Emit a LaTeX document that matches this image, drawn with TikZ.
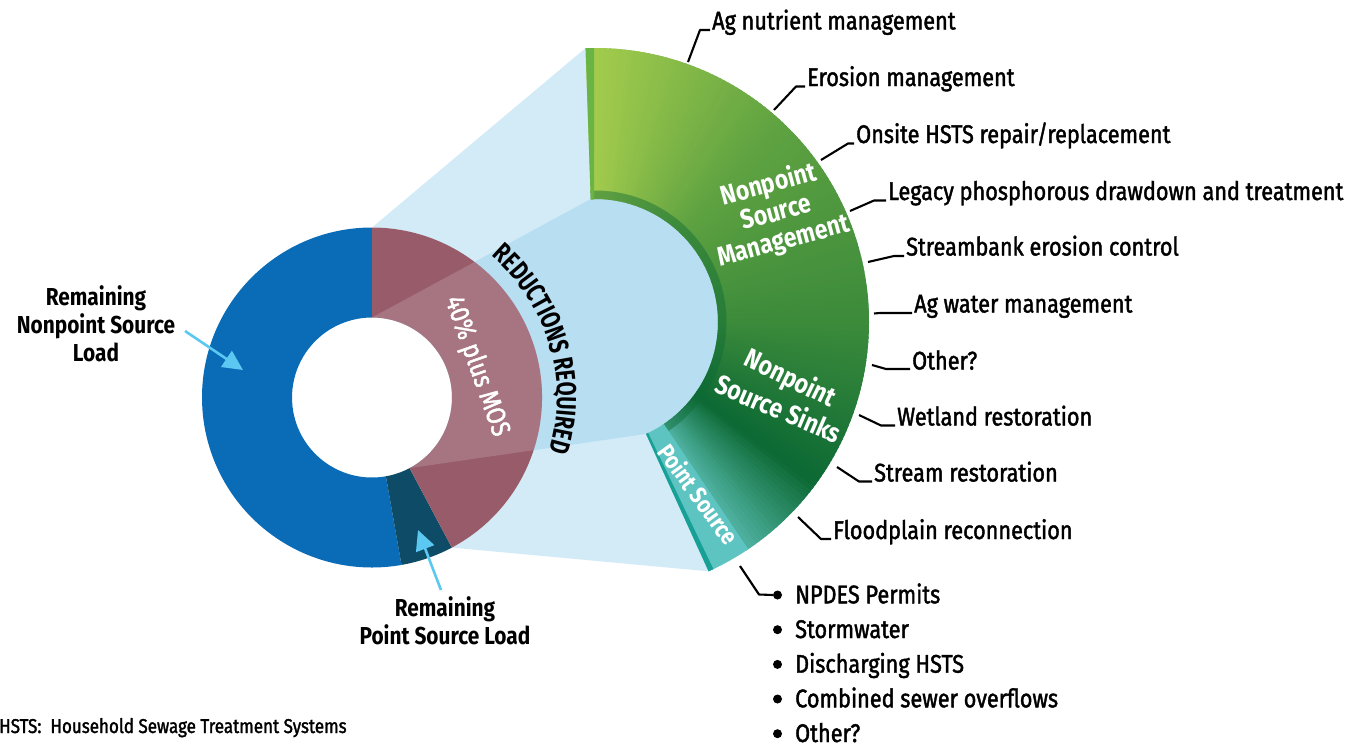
\documentclass[tikz,border=0pt]{standalone}
\usepackage{fontspec}
\setmainfont{Fira Sans}[FakeStretch=0.85]
\newfontfamily\lblfont{Fira Sans}[FakeStretch=0.85,FakeBold=1.6]
\newfontfamily\condfont{Fira Sans}[FakeStretch=0.74]
\usetikzlibrary{arrows.meta,decorations.text,calc}
\definecolor{dblue}{HTML}{0A6CB7}
\definecolor{dnavy}{HTML}{0E4B66}
\definecolor{dmaroon}{HTML}{975B6A}
\definecolor{beam}{HTML}{D3EAF7}
\definecolor{wedge}{HTML}{B8DEF2}
\definecolor{G1}{HTML}{A5CD4D}
\definecolor{G2}{HTML}{5DA141}
\definecolor{G3}{HTML}{3C8B3B}
\definecolor{G4}{HTML}{0D6A34}
\definecolor{G5}{HTML}{4DB09E}
\definecolor{Gstrip}{HTML}{6AB446}
\definecolor{psteal}{HTML}{5EC4C1}
\definecolor{tealedge}{HTML}{16A096}
\definecolor{arrowcyan}{HTML}{5BC8F2}
\newcommand\annseg[5]{\fill[#1] ($(C)+(#2:#5)$) arc[start angle=#2,end angle=#3,radius=#5] -- ($(C)+(#3:#4)$) arc[start angle=#3,end angle=#2,radius=#4] -- cycle;}
\newcommand\gradsec[5]{%
  \foreach \k in {0,...,#3}{%
    \pgfmathsetmacro\aa{#1-(#1-(#2))*\k/(#3+1)}%
    \pgfmathsetmacro\ab{#1-(#1-(#2))*(\k+1)/(#3+1)-0.6}%
    \pgfmathtruncatemacro\p{round(100*\k/#3)}%
    \annseg{#5!\p!#4}{\aa}{\ab}{131}{274}%
    \annseg{#5!\p!#4!55!G4}{\aa}{\ab}{123}{131.5}%
  }}
\begin{document}
\begin{tikzpicture}[x=1pt,y=1pt,
  lbl/.style={anchor=base west, font=\lblfont\fontsize{25.5}{30}\selectfont, inner sep=0pt},
  leader/.style={draw=black, line width=2.1pt, line join=round},
  ringtxt/.style={text=white, font=\bfseries\fontsize{27}{29}\selectfont, align=center, inner sep=0pt},
  callout/.style={font=\bfseries\fontsize{24.5}{28}\selectfont, align=center, inner sep=0pt},
  cyanarrow/.style={draw=arrowcyan, line width=2.6pt, -{Triangle[length=20pt,width=19pt]}},
  bulletdot/.style={circle, fill=black, inner sep=0pt, minimum size=9pt}]
\useasboundingbox (0,0) rectangle (1360,-747);
\coordinate (C) at (595,-322);
\coordinate (D) at (372,-397.5);
% outer beam
\fill[beam] ($(D)+(90:170)$) -- ($(C)+(92:274)$) arc[start angle=92,end angle=-65.5,radius=274]
  -- ($(D)+(-62:170)$) arc[start angle=-62,end angle=90,radius=170] -- cycle;
% inner wedge
\fill[wedge] ($(D)+(90:80)$) -- ($(C)+(92:123)$) arc[start angle=92,end angle=-65.5,radius=123]
  -- ($(D)+(-62:80)$) arc[start angle=-62,end angle=90,radius=80] -- cycle;
% green ring
\gradsec{92}{45}{46}{G1}{G2}
\gradsec{45}{0}{44}{G2}{G3}
\gradsec{0}{-36}{35}{G3}{G4}
\gradsec{-36}{-56}{19}{G4}{G5}
\annseg{psteal}{-56}{-65.5}{123}{274}
\annseg{tealedge}{-64.4}{-65.5}{123}{274}
\begin{scope}
  \clip (C) circle (274);
  \fill[Gstrip] (585.4,-40) -- (594,-40) -- (594,-199.5) -- (590.7,-199.5) -- cycle;
\end{scope}
% donut
\fill[dblue] ($(D)+(90:170)$) arc[start angle=90,end angle=280,radius=170] -- ($(D)+(280:80)$) arc[start angle=280,end angle=90,radius=80] -- cycle;
\fill[dnavy] ($(D)+(-80:170)$) arc[start angle=-80,end angle=-62,radius=170] -- ($(D)+(-62:80)$) arc[start angle=-62,end angle=-80,radius=80] -- cycle;
\fill[dmaroon] ($(D)+(-62:170)$) arc[start angle=-62,end angle=90,radius=170] -- ($(D)+(90:80)$) arc[start angle=90,end angle=-62,radius=80] -- cycle;
\begin{scope}
  \clip (D) circle (170);
  \fill[white, fill opacity=0.16] ($(D)+(90:80)$) -- ($(C)+(92:123)$) arc[start angle=92,end angle=-65.5,radius=123]
  -- ($(D)+(-62:80)$) arc[start angle=-62,end angle=90,radius=80] -- cycle;
\end{scope}
% donut texts
\node[text=white, rotate=-70.5, font=\lblfont\fontsize{27}{27}\selectfont, inner sep=0pt] (mos) at (476.5,-366.5) {40\% plus MOS};
\path[decorate, decoration={text along path, text align=center,
  text={|\condfont\bfseries\fontsize{27.5}{27.5}\selectfont|REDUCTIONS REQUIRED}}]
  ($(D)+(51:185)$) arc[start angle=51,end angle=-18,radius=185];
% ring texts
\node[ringtxt, rotate=15] (nsm) at (776,-213) {Nonpoint\\Source\\Management};
\node[ringtxt, rotate=-26] (nss1) at (790,-379) {Nonpoint};
\node[ringtxt, rotate=-23] (nss2) at (779,-408) {Source Sinks};
\node[ringtxt, rotate=-54, font=\bfseries\fontsize{24}{24}\selectfont] (ps) at (699,-494) {Point Source};
% callouts
\node[callout] (rnl) at (96,-324) {Remaining\\Nonpoint Source\\Load};
\node[callout] (rpl) at (445,-621) {Remaining\\Point Source Load};
\coordinate (n1s) at (185,-331); \coordinate (n1t) at (243,-370);
\draw[cyanarrow] (n1s) -- (n1t);
\coordinate (p1s) at (441,-590); \coordinate (p1t) at (418,-530);
\draw[cyanarrow] (p1s) -- (p1t);
% right labels
\node[lbl] (l1) at (712,-29.5) {Ag nutrient management};
\node[lbl] (l2) at (807,-86) {Erosion management};
\node[lbl] (l3) at (856,-143) {Onsite HSTS repair/replacement};
\node[lbl] (l4) at (888,-200) {Legacy phosphorous drawdown and treatment};
\node[lbl] (l5) at (906,-255.5) {Streambank erosion control};
\node[lbl] (l6) at (914,-312.5) {Ag water management};
\node[lbl] (l7) at (912,-369.5) {Other?};
\node[lbl] (l8) at (897,-425.5) {Wetland restoration};
\node[lbl] (l9) at (874,-481.5) {Stream restoration};
\node[lbl] (l10) at (833,-539) {Floodplain reconnection};
\coordinate (a1) at (688,-62);  \coordinate (k1) at (700,-30);
\coordinate (a2) at (774,-110); \coordinate (k2) at (796,-86.5);
\coordinate (a3) at (821,-160); \coordinate (k3) at (848,-143.5);
\coordinate (a4) at (850,-211); \coordinate (k4) at (874,-200.5);
\coordinate (a5) at (868,-262); \coordinate (k5) at (894,-256);
\coordinate (a6) at (874,-313.5); \coordinate (k6) at (880,-313);
\coordinate (a7) at (872,-365); \coordinate (k7) at (886,-369);
\coordinate (a8) at (859,-415); \coordinate (k8) at (881,-425.5);
\coordinate (a9) at (837,-467); \coordinate (k9) at (859,-481.5);
\coordinate (a10) at (798,-517); \coordinate (k10) at (821,-539);
\foreach \i in {1,...,10}{
  \draw[leader] (a\i) -- (k\i) -- (k\i -| {$(l\i.base west)+(-2,0)$});
}
% point source list
\node[bulletdot] (b1) at (777.5,-595) {};
\node[bulletdot] (b2) at (777.5,-629.7) {};
\node[bulletdot] (b3) at (777.5,-664.4) {};
\node[bulletdot] (b4) at (777.5,-699) {};
\node[bulletdot] (b5) at (777.5,-733.7) {};
\node[lbl] (t1) at (795,-603.3) {NPDES Permits};
\node[lbl] (t2) at (795,-638) {Stormwater};
\node[lbl] (t3) at (795,-672.7) {Discharging HSTS};
\node[lbl] (t4) at (795,-707.3) {Combined sewer overflows};
\node[lbl] (t5) at (795,-742) {Other?};
\coordinate (a11) at (740,-566); \coordinate (k11) at (759,-594.5);
\draw[leader] (a11) -- (k11) -- (b1.west);
% footnote
\node[anchor=base west, font=\lblfont\fontsize{20}{24}\selectfont, inner sep=0pt] (fn) at (-1,-733) {HSTS:\ \ Household Sewage Treatment Systems};
\end{tikzpicture}
\end{document}
